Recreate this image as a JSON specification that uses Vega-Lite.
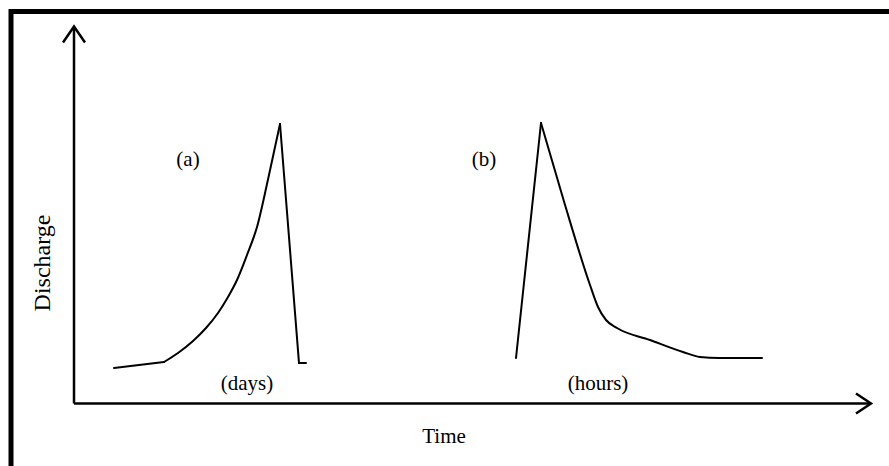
{
  "$schema": "https://vega.github.io/schema/vega-lite/v6.json",
  "width": 889,
  "height": 466,
  "padding": 0,
  "autosize": {"type": "none"},
  "background": "white",
  "config": {"view": {"stroke": null}},
  "datasets": {
    "frame": [{"t0": -63, "t1": 840, "q0": 392, "q1": -90}],
    "axes": [
      {"part": "yaxis", "order": 1, "t": 0, "q": 0},
      {"part": "yaxis", "order": 2, "t": 0, "q": 376.5},
      {"part": "xaxis", "order": 1, "t": 0, "q": 0},
      {"part": "xaxis", "order": 2, "t": 796, "q": 0},
      {"part": "yarrow", "order": 1, "t": -11, "q": 361},
      {"part": "yarrow", "order": 2, "t": 0, "q": 377},
      {"part": "yarrow", "order": 3, "t": 11, "q": 361},
      {"part": "xarrow", "order": 1, "t": 782, "q": 10},
      {"part": "xarrow", "order": 2, "t": 797, "q": 0},
      {"part": "xarrow", "order": 3, "t": 782, "q": -10}
    ],
    "curves": [
      {"segment": "a-base", "order": 1, "t": 40, "q": 35.5},
      {"segment": "a-base", "order": 2, "t": 90, "q": 41.5},
      {"segment": "a-rise", "order": 1, "t": 90, "q": 41.5},
      {"segment": "a-rise", "order": 2, "t": 104, "q": 50.5},
      {"segment": "a-rise", "order": 3, "t": 119, "q": 62.5},
      {"segment": "a-rise", "order": 4, "t": 132, "q": 75.5},
      {"segment": "a-rise", "order": 5, "t": 144, "q": 90.5},
      {"segment": "a-rise", "order": 6, "t": 154, "q": 106.5},
      {"segment": "a-rise", "order": 7, "t": 163, "q": 123.5},
      {"segment": "a-rise", "order": 8, "t": 173, "q": 148.5},
      {"segment": "a-rise", "order": 9, "t": 183, "q": 176.5},
      {"segment": "a-rise", "order": 10, "t": 194, "q": 224},
      {"segment": "a-rise", "order": 11, "t": 206, "q": 279.5},
      {"segment": "a-fall", "order": 1, "t": 206, "q": 279.5},
      {"segment": "a-fall", "order": 2, "t": 225, "q": 40.5},
      {"segment": "a-fall", "order": 3, "t": 232, "q": 40.5},
      {"segment": "b-rise", "order": 1, "t": 442, "q": 45.5},
      {"segment": "b-rise", "order": 2, "t": 467, "q": 280.5},
      {"segment": "b-fall", "order": 1, "t": 467, "q": 280.5},
      {"segment": "b-fall", "order": 2, "t": 490, "q": 202},
      {"segment": "b-fall", "order": 3, "t": 516, "q": 118.5},
      {"segment": "b-fall", "order": 4, "t": 524, "q": 96.5},
      {"segment": "b-fall", "order": 5, "t": 532, "q": 83.5},
      {"segment": "b-fall", "order": 6, "t": 543, "q": 75.5},
      {"segment": "b-fall", "order": 7, "t": 576, "q": 63.5},
      {"segment": "b-fall", "order": 8, "t": 609, "q": 51.5},
      {"segment": "b-fall", "order": 9, "t": 626, "q": 46.5},
      {"segment": "b-fall", "order": 10, "t": 645, "q": 45.5},
      {"segment": "b-fall", "order": 11, "t": 688, "q": 45.5}
    ],
    "labels": [
      {"label": "(a)", "t": 114, "q": 243.5},
      {"label": "(b)", "t": 410, "q": 243.5},
      {"label": "(days)", "t": 173, "q": 19.5},
      {"label": "(hours)", "t": 524, "q": 19.5},
      {"label": "Time", "t": 370, "q": -33.5}
    ],
    "ylabel": [{"label": "Discharge", "t": -31, "q": 140.5}]
  },
  "layer": [
    {
      "data": {"name": "frame"},
      "mark": {"type": "rect", "fill": null, "fillOpacity": 0, "stroke": "black", "strokeWidth": 5, "clip": true},
      "encoding": {
        "x": {"field": "t0", "type": "quantitative", "scale": {"domain": [-74, 815], "nice": false, "zero": false}, "axis": null},
        "x2": {"field": "t1"},
        "y": {"field": "q0", "type": "quantitative", "scale": {"domain": [-62.5, 403.5], "nice": false, "zero": false}, "axis": null},
        "y2": {"field": "q1"}
      }
    },
    {
      "data": {"name": "axes"},
      "mark": {"type": "line", "color": "black", "strokeWidth": 2.5, "strokeJoin": "miter", "strokeCap": "butt"},
      "encoding": {
        "x": {"field": "t", "type": "quantitative", "axis": null},
        "y": {"field": "q", "type": "quantitative", "axis": null},
        "detail": {"field": "part"},
        "order": {"field": "order"}
      }
    },
    {
      "data": {"name": "curves"},
      "transform": [{"filter": "datum.segment === 'a-rise' || datum.segment === 'b-fall'"}],
      "mark": {"type": "line", "color": "black", "strokeWidth": 2, "interpolate": "monotone", "strokeCap": "round"},
      "encoding": {
        "x": {"field": "t", "type": "quantitative", "axis": null},
        "y": {"field": "q", "type": "quantitative", "axis": null},
        "detail": {"field": "segment"},
        "order": {"field": "order"}
      }
    },
    {
      "data": {"name": "curves"},
      "transform": [{"filter": "datum.segment === 'a-base' || datum.segment === 'a-fall' || datum.segment === 'b-rise'"}],
      "mark": {"type": "line", "color": "black", "strokeWidth": 2, "strokeJoin": "miter", "strokeCap": "round"},
      "encoding": {
        "x": {"field": "t", "type": "quantitative", "axis": null},
        "y": {"field": "q", "type": "quantitative", "axis": null},
        "detail": {"field": "segment"},
        "order": {"field": "order"}
      }
    },
    {
      "data": {"name": "labels"},
      "mark": {"type": "text", "font": "Liberation Serif", "fontSize": 21, "color": "black", "align": "center", "baseline": "middle"},
      "encoding": {
        "x": {"field": "t", "type": "quantitative", "axis": null},
        "y": {"field": "q", "type": "quantitative", "axis": null},
        "text": {"field": "label"}
      }
    },
    {
      "data": {"name": "ylabel"},
      "mark": {"type": "text", "font": "Liberation Serif", "fontSize": 24, "color": "black", "align": "center", "baseline": "middle", "angle": 270},
      "encoding": {
        "x": {"field": "t", "type": "quantitative", "axis": null},
        "y": {"field": "q", "type": "quantitative", "axis": null},
        "text": {"field": "label"}
      }
    }
  ],
  "resolve": {"scale": {"x": "shared", "y": "shared"}}
}
